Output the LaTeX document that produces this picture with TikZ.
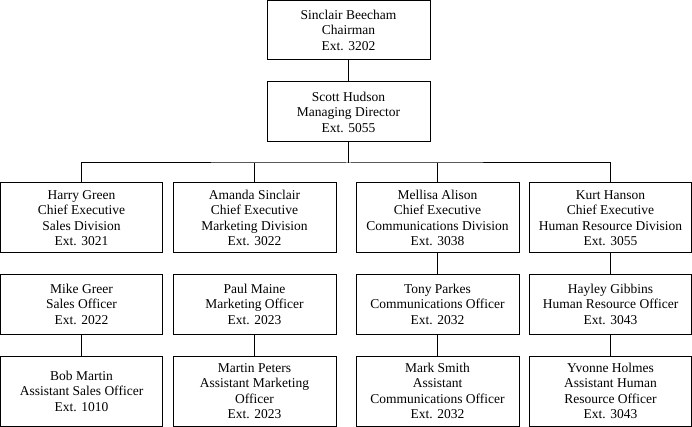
\documentclass[tikz,border=0pt]{standalone}
\usepackage{fontspec}
\setmainfont{Liberation Serif}
\begin{document}
\begin{tikzpicture}[x=1pt,y=-1pt,
  box/.style={draw=black,line width=1pt,align=center,inner sep=0pt,
    font=\fontsize{13.5}{15.5}\selectfont,minimum width=162pt},
  h60/.style={minimum height=60pt},
  h70/.style={minimum height=70pt},
  link/.style={line width=1pt}]
\useasboundingbox (0,0) rectangle (692,427);
\node[box,h60,minimum height=59.5pt,minimum width=163pt] (chair) at (348.5,30.25) {Sinclair Beecham\\Chairman\\Ext. 3202};
\node[box,h60,minimum width=163pt] (md) at (348.5,112) {Scott Hudson\\Managing Director\\Ext. 5055};

\node[box,h70] (ce1) at (81.5,218) {Harry Green\\Chief Executive\\Sales Division\\Ext. 3021};
\node[box,h70,minimum width=163pt] (ce2) at (254.5,218) {Amanda Sinclair\\Chief Executive\\Marketing Division\\Ext. 3022};
\node[box,h70,minimum width=163pt] (ce3) at (437.5,218) {Mellisa Alison\\Chief Executive\\Communications Division\\Ext. 3038};
\node[box,h70] (ce4) at (610.5,218) {Kurt Hanson\\Chief Executive\\Human Resource Division\\Ext. 3055};

\node[box,h60] (of1) at (81.5,304) {Mike Greer\\Sales Officer\\Ext. 2022};
\node[box,h60,minimum width=163pt] (of2) at (254.5,304) {Paul Maine\\Marketing Officer\\Ext. 2023};
\node[box,h60,minimum width=163pt] (of3) at (437.5,304) {Tony Parkes\\Communications Officer\\Ext. 2032};
\node[box,h60] (of4) at (610.5,304) {Hayley Gibbins\\Human Resource Officer\\Ext. 3043};

\node[box,h70] (as1) at (81.5,391) {Bob Martin\\Assistant Sales Officer\\Ext. 1010};
\node[box,h70,minimum width=163pt] (as2) at (254.5,391) {Martin Peters\\Assistant Marketing\\Officer\\Ext. 2023};
\node[box,h70,minimum width=163pt] (as3) at (437.5,391) {Mark Smith\\Assistant\\Communications Officer\\Ext. 2032};
\node[box,h70] (as4) at (610.5,391) {Yvonne Holmes\\Assistant Human\\Resource Officer\\Ext. 3043};

\coordinate (bus) at (348.5,163);
\draw[link] (chair) -- (md);
\draw[link] (md.south) -- (bus);
\draw[link] (ce1.north) |- (bus) -| (ce4.north);
\draw[link] (ce2.north) -- (ce2.north |- bus);
\draw[link] (ce3.north) -- (ce3.north |- bus);
\draw[link] (ce3) -- (of3);
\draw[link] (ce4) -- (of4);
\draw[link] (of1) -- (as1);
\draw[link] (of2) -- (as2);
\draw[link] (of3) -- (as3);
\draw[link] (of4) -- (as4);
\end{tikzpicture}
\end{document}
